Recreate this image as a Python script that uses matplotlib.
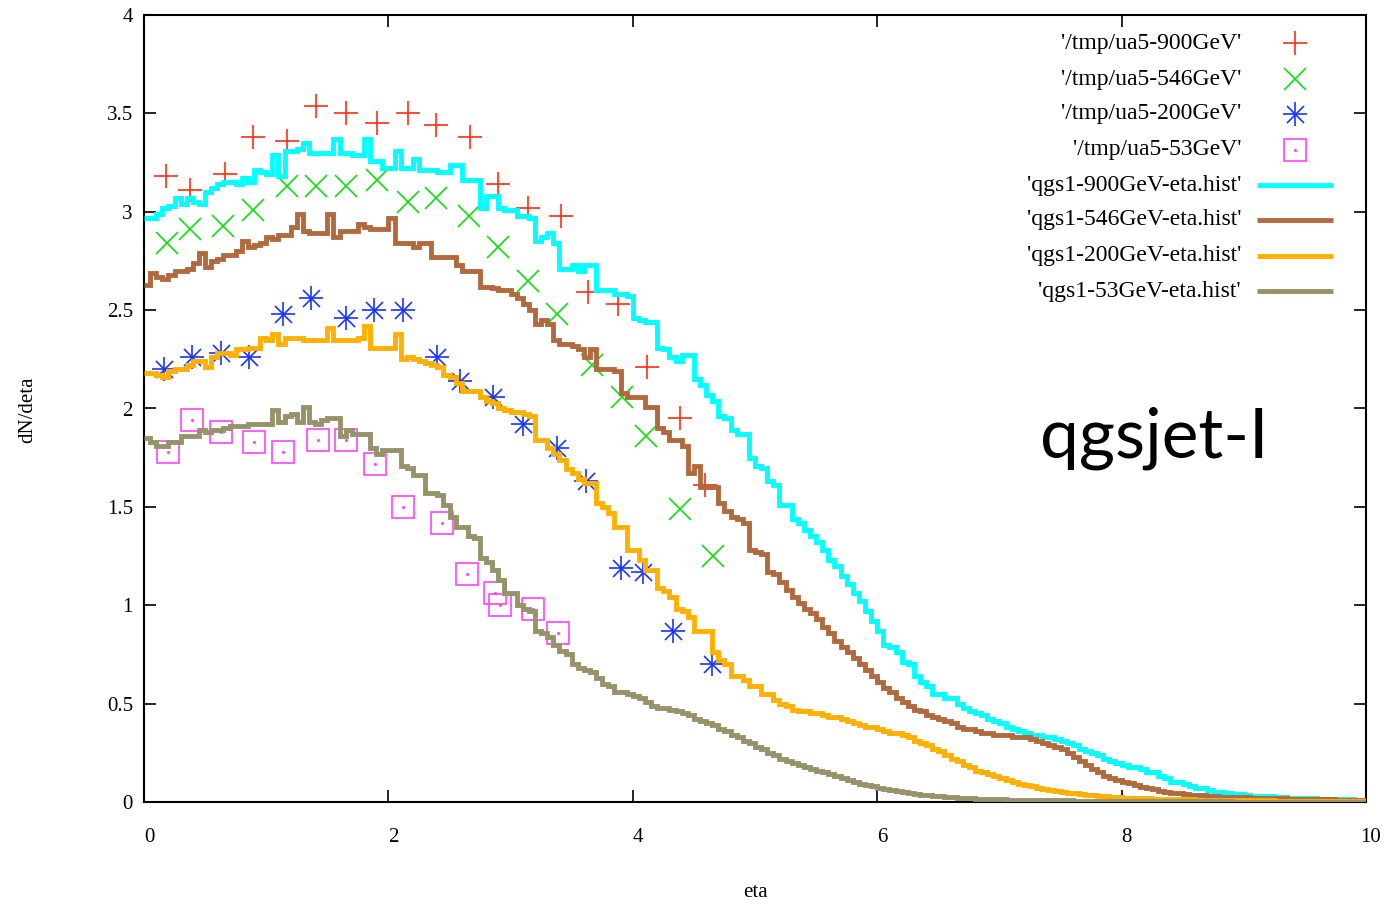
import numpy as np
import matplotlib
matplotlib.use('Agg')
import matplotlib.pyplot as plt
from matplotlib.lines import Line2D
import matplotlib.transforms as mtransforms

# ---------------- data ----------------
# UA5 measurements (eta, dN/deta)
ua5_900_eta = [0.18, 0.38, 0.66, 0.89, 1.17, 1.41, 1.65, 1.91, 2.16, 2.39, 2.67, 2.90, 3.14, 3.41, 3.63, 3.88, 4.12, 4.39, 4.59]
ua5_900_val = [3.18, 3.11, 3.19, 3.38, 3.36, 3.54, 3.50, 3.45, 3.50, 3.44, 3.38, 3.14, 3.02, 2.98, 2.59, 2.53, 2.21, 1.95, 1.61]

ua5_546_eta = [0.19, 0.38, 0.65, 0.89, 1.17, 1.41, 1.65, 1.91, 2.16, 2.39, 2.66, 2.90, 3.14, 3.38, 3.67, 3.91, 4.11, 4.39, 4.66]
ua5_546_val = [2.84, 2.91, 2.93, 3.01, 3.13, 3.13, 3.13, 3.16, 3.05, 3.07, 2.98, 2.82, 2.65, 2.48, 2.22, 2.06, 1.86, 1.49, 1.25]

ua5_200_eta = [0.16, 0.39, 0.63, 0.86, 1.14, 1.37, 1.65, 1.88, 2.12, 2.40, 2.59, 2.86, 3.10, 3.38, 3.62, 3.90, 4.08, 4.33, 4.65]
ua5_200_val = [2.20, 2.26, 2.28, 2.26, 2.48, 2.56, 2.46, 2.50, 2.50, 2.26, 2.14, 2.06, 1.92, 1.80, 1.63, 1.19, 1.17, 0.87, 0.70]

ua5_53_eta = [0.20, 0.39, 0.63, 0.90, 1.14, 1.42, 1.65, 1.89, 2.12, 2.44, 2.64, 2.87, 2.91, 3.18, 3.39]
ua5_53_val = [1.78, 1.94, 1.88, 1.83, 1.78, 1.84, 1.84, 1.72, 1.50, 1.42, 1.16, 1.06, 1.00, 0.98, 0.86]

# QGSJET-I histograms, bins of width 0.05 from eta=0 to eta=10
qgs_900 = [
    2.97, 2.97, 2.99, 3.02, 3.03, 3.07, 3.04, 3.07, 3.05, 3.04, 3.10, 3.12, 3.14, 3.15, 3.15, 3.14, 3.17, 3.15, 3.21, 3.20,
    3.19, 3.29, 3.18, 3.31, 3.31, 3.32, 3.35, 3.30, 3.30, 3.30, 3.30, 3.37, 3.30, 3.30, 3.29, 3.29, 3.37, 3.26, 3.26, 3.22,
    3.22, 3.31, 3.22, 3.22, 3.27, 3.21, 3.21, 3.21, 3.20, 3.20, 3.24, 3.24, 3.16, 3.16, 3.16, 3.02, 3.08, 3.08, 3.02, 3.01,
    3.01, 2.98, 2.98, 2.97, 2.85, 2.87, 2.89, 2.84, 2.71, 2.71, 2.73, 2.70, 2.73, 2.73, 2.60, 2.60, 2.60, 2.58, 2.58, 2.57,
    2.46, 2.45, 2.44, 2.44, 2.31, 2.30, 2.26, 2.24, 2.27, 2.27, 2.15, 2.12, 2.07, 2.04, 1.96, 1.95, 1.89, 1.87, 1.87, 1.75,
    1.71, 1.70, 1.63, 1.61, 1.51, 1.51, 1.44, 1.42, 1.38, 1.35, 1.32, 1.28, 1.23, 1.20, 1.15, 1.11, 1.06, 1.02, 0.97, 0.92,
    0.87, 0.80, 0.79, 0.76, 0.71, 0.70, 0.64, 0.61, 0.59, 0.55, 0.55, 0.53, 0.53, 0.50, 0.48, 0.46, 0.45, 0.44, 0.42, 0.41,
    0.40, 0.38, 0.37, 0.36, 0.35, 0.34, 0.34, 0.33, 0.33, 0.32, 0.31, 0.30, 0.29, 0.27, 0.26, 0.25, 0.24, 0.22, 0.21, 0.20,
    0.19, 0.18, 0.18, 0.17, 0.15, 0.15, 0.13, 0.12, 0.10, 0.10, 0.09, 0.08, 0.07, 0.07, 0.06, 0.05, 0.05, 0.045, 0.04, 0.04,
    0.035, 0.03, 0.03, 0.03, 0.028, 0.025, 0.025, 0.022, 0.02, 0.02, 0.02, 0.018, 0.017, 0.016, 0.015, 0.015, 0.014, 0.013, 0.012, 0.012,
]

qgs_546 = [
    2.63, 2.69, 2.67, 2.66, 2.68, 2.70, 2.70, 2.71, 2.74, 2.79, 2.72, 2.75, 2.76, 2.78, 2.78, 2.80, 2.85, 2.82, 2.83, 2.84,
    2.87, 2.86, 2.88, 2.88, 2.92, 2.99, 2.90, 2.89, 2.89, 2.89, 2.99, 2.87, 2.90, 2.90, 2.90, 2.94, 2.92, 2.91, 2.91, 2.91,
    2.97, 2.84, 2.84, 2.84, 2.82, 2.84, 2.84, 2.77, 2.77, 2.77, 2.77, 2.73, 2.70, 2.70, 2.70, 2.62, 2.62, 2.61, 2.60, 2.60,
    2.58, 2.56, 2.53, 2.50, 2.43, 2.45, 2.43, 2.35, 2.33, 2.33, 2.32, 2.30, 2.26, 2.30, 2.20, 2.20, 2.20, 2.19, 2.08, 2.06,
    2.06, 2.06, 2.01, 2.01, 1.90, 1.88, 1.84, 1.84, 1.81, 1.67, 1.71, 1.60, 1.60, 1.60, 1.52, 1.48, 1.45, 1.44, 1.42, 1.28,
    1.27, 1.26, 1.17, 1.16, 1.12, 1.08, 1.04, 1.01, 0.98, 0.96, 0.93, 0.89, 0.86, 0.82, 0.79, 0.76, 0.73, 0.70, 0.67, 0.64,
    0.61, 0.58, 0.56, 0.53, 0.51, 0.49, 0.47, 0.46, 0.44, 0.43, 0.42, 0.41, 0.40, 0.38, 0.37, 0.37, 0.36, 0.35, 0.35, 0.34,
    0.34, 0.34, 0.33, 0.33, 0.33, 0.32, 0.31, 0.30, 0.29, 0.28, 0.27, 0.25, 0.23, 0.21, 0.19, 0.17, 0.15, 0.13, 0.12, 0.11,
    0.10, 0.095, 0.085, 0.078, 0.07, 0.065, 0.055, 0.05, 0.047, 0.045, 0.04, 0.037, 0.036, 0.034, 0.03, 0.03, 0.027, 0.025, 0.025, 0.024,
    0.023, 0.022, 0.02, 0.02, 0.019, 0.018, 0.018, 0.017, 0.016, 0.015, 0.015, 0.014, 0.014, 0.013, 0.013, 0.012, 0.012, 0.011, 0.011, 0.01,
]

qgs_200 = [
    2.18, 2.18, 2.17, 2.16, 2.19, 2.20, 2.20, 2.22, 2.24, 2.24, 2.21, 2.26, 2.28, 2.28, 2.27, 2.30, 2.30, 2.31, 2.31, 2.36,
    2.35, 2.38, 2.33, 2.36, 2.36, 2.36, 2.35, 2.35, 2.35, 2.35, 2.41, 2.35, 2.35, 2.35, 2.35, 2.36, 2.42, 2.31, 2.31, 2.31,
    2.31, 2.38, 2.25, 2.26, 2.25, 2.24, 2.23, 2.22, 2.21, 2.17, 2.16, 2.13, 2.09, 2.09, 2.09, 2.06, 2.04, 2.03, 2.00, 1.99,
    1.98, 1.98, 1.97, 1.96, 1.84, 1.84, 1.80, 1.77, 1.74, 1.69, 1.67, 1.64, 1.62, 1.62, 1.52, 1.50, 1.47, 1.40, 1.40, 1.28,
    1.28, 1.23, 1.18, 1.18, 1.09, 1.07, 1.04, 0.98, 0.97, 0.94, 0.87, 0.87, 0.87, 0.76, 0.72, 0.70, 0.64, 0.64, 0.62, 0.59,
    0.59, 0.55, 0.55, 0.52, 0.50, 0.49, 0.47, 0.46, 0.46, 0.45, 0.45, 0.44, 0.43, 0.43, 0.42, 0.41, 0.40, 0.39, 0.38, 0.38,
    0.37, 0.36, 0.35, 0.35, 0.34, 0.33, 0.31, 0.30, 0.29, 0.27, 0.26, 0.24, 0.22, 0.21, 0.19, 0.18, 0.16, 0.15, 0.14, 0.13,
    0.12, 0.11, 0.10, 0.09, 0.085, 0.08, 0.07, 0.065, 0.06, 0.055, 0.05, 0.047, 0.044, 0.04, 0.037, 0.034, 0.03, 0.028, 0.026, 0.024,
    0.022, 0.021, 0.02, 0.019, 0.018, 0.017, 0.016, 0.015, 0.015, 0.014, 0.013, 0.013, 0.012, 0.012, 0.011, 0.011, 0.01, 0.01, 0.01, 0.009,
    0.009, 0.009, 0.008, 0.008, 0.008, 0.007, 0.007, 0.007, 0.006, 0.006, 0.006, 0.006, 0.005, 0.005, 0.005, 0.005, 0.005, 0.004, 0.004, 0.004,
]

qgs_53 = [
    1.85, 1.83, 1.81, 1.81, 1.83, 1.83, 1.86, 1.86, 1.86, 1.89, 1.88, 1.89, 1.89, 1.90, 1.91, 1.91, 1.91, 1.92, 1.92, 1.92,
    1.92, 1.99, 1.93, 1.96, 1.97, 1.93, 2.01, 1.93, 1.92, 1.94, 1.95, 1.95, 1.86, 1.89, 1.87, 1.87, 1.87, 1.80, 1.77, 1.79,
    1.79, 1.79, 1.71, 1.70, 1.66, 1.66, 1.57, 1.57, 1.56, 1.51, 1.45, 1.40, 1.40, 1.35, 1.34, 1.24, 1.22, 1.18, 1.13, 1.06,
    1.06, 1.00, 0.98, 0.97, 0.87, 0.86, 0.84, 0.80, 0.77, 0.75, 0.70, 0.68, 0.67, 0.66, 0.63, 0.60, 0.59, 0.56, 0.56, 0.55,
    0.54, 0.53, 0.51, 0.49, 0.48, 0.48, 0.47, 0.46, 0.45, 0.44, 0.42, 0.41, 0.40, 0.39, 0.37, 0.36, 0.34, 0.33, 0.31, 0.30,
    0.28, 0.27, 0.25, 0.24, 0.22, 0.21, 0.20, 0.19, 0.18, 0.17, 0.16, 0.15, 0.14, 0.13, 0.12, 0.11, 0.10, 0.09, 0.085, 0.08,
    0.07, 0.065, 0.06, 0.055, 0.05, 0.045, 0.04, 0.037, 0.034, 0.03, 0.028, 0.026, 0.024, 0.022, 0.02, 0.018, 0.017, 0.016, 0.015, 0.014,
    0.013, 0.012, 0.012, 0.011, 0.011, 0.010, 0.010, 0.009, 0.009, 0.008, 0.008, 0.008, 0.007, 0.007, 0.007, 0.006, 0.006, 0.006, 0.006, 0.005,
    0.005, 0.005, 0.005, 0.005, 0.004, 0.004, 0.004, 0.004, 0.004, 0.004, 0.003, 0.003, 0.003, 0.003, 0.003, 0.003, 0.003, 0.003, 0.002, 0.002,
    0.002, 0.002, 0.002, 0.002, 0.002, 0.002, 0.002, 0.002, 0.002, 0.002, 0.002, 0.002, 0.002, 0.002, 0.002, 0.002, 0.002, 0.002, 0.002, 0.002,
]

point_labels = ["'/tmp/ua5-900GeV'", "'/tmp/ua5-546GeV'", "'/tmp/ua5-200GeV'", "'/tmp/ua5-53GeV'"]
line_labels = ["'qgs1-900GeV-eta.hist'", "'qgs1-546GeV-eta.hist'", "'qgs1-200GeV-eta.hist'", "'qgs1-53GeV-eta.hist'"]
x_ticks = [0, 2, 4, 6, 8, 10]
x_tick_labels = ['0', '2', '4', '6', '8', '10']
y_ticks = [0, 0.5, 1, 1.5, 2, 2.5, 3, 3.5, 4]
y_tick_labels = ['0', '0.5', '1', '1.5', '2', '2.5', '3', '3.5', '4']

# ---------------- style ----------------
C_RED = '#ff2d14'
C_GREEN = '#12dc12'
C_BLUE = '#1a34ff'
C_MAG = '#ff44ff'
C_CYAN = '#00ffff'
C_BROWN = '#b06a3e'
C_ORANGE = '#ffb000'
C_OLIVE = '#96926a'

SERIF = ['Liberation Serif', 'DejaVu Serif']

W, H = 1386, 922
fig = plt.figure(figsize=(W / 100, H / 100), dpi=100)
L, R, T, B = 144, 1366, 15, 802
ax = fig.add_axes([L / W, 1 - B / H, (R - L) / W, (B - T) / H])

MS = 17
MEW = 1.2
ax.plot(ua5_900_eta, ua5_900_val, ls='none', marker='+', ms=MS, mew=MEW, color=C_RED, zorder=2)
ax.plot(ua5_546_eta, ua5_546_val, ls='none', marker='x', ms=MS * 0.95, mew=MEW, color=C_GREEN, zorder=2)
ax.plot(ua5_200_eta, ua5_200_val, ls='none', marker='+', ms=MS, mew=MEW, color=C_BLUE, zorder=2)
ax.plot(ua5_200_eta, ua5_200_val, ls='none', marker='x', ms=MS * 0.72, mew=MEW, color=C_BLUE, zorder=2)
ax.plot(ua5_53_eta, ua5_53_val, ls='none', marker='s', ms=MS * 0.95, mew=MEW, mfc='none', mec=C_MAG, zorder=2)
ax.plot(ua5_53_eta, ua5_53_val, ls='none', marker='.', ms=2.5, color=C_MAG, zorder=2)

LW = 3.5
for vals, col in [(qgs_900, C_CYAN), (qgs_546, C_BROWN), (qgs_200, C_ORANGE), (qgs_53, C_OLIVE)]:
    edges = np.linspace(0, 10, len(vals) + 1)
    ax.stairs(vals, edges, baseline=None, color=col, lw=LW, zorder=3)

ax.set_xlim(0, 10)
ax.set_ylim(0, 4)
ax.set_xticks(x_ticks)
ax.set_xticklabels(x_tick_labels, fontfamily=SERIF, fontsize=15)
ax.set_yticks(y_ticks)
ax.set_yticklabels(y_tick_labels, fontfamily=SERIF, fontsize=15)
ax.tick_params(direction='in', length=8.5, width=1.2, top=True, right=True, colors='black')
ax.tick_params(axis='x', pad=19)
ax.tick_params(axis='y', pad=8)
for lab in ax.get_xticklabels():
    lab.set_transform(lab.get_transform() + mtransforms.ScaledTranslation(5 / 100, 0, fig.dpi_scale_trans))
for s in ax.spines.values():
    s.set_linewidth(1.5)

def fx(px):
    return px / W

def fy(py):
    return 1 - py / H

fig.text(fx(28), fy(410), 'dN/deta', rotation=90, ha='center', va='center', fontfamily=SERIF, fontsize=15)
fig.text(fx(755), fy(892), 'eta', ha='center', va='center', fontfamily=SERIF, fontsize=15)

fig.text(fx(1040), fy(457), 'qgsjet-I', ha='left', va='baseline', fontfamily=['Lato', 'DejaVu Sans'], fontsize=50)

# legend (gnuplot style: right-aligned text, sample at right)
rows = [43, 79, 114, 150, 185, 220, 256, 291]
text_x = 1241
mk_x = 1295
for i, lab in enumerate(point_labels + line_labels):
    fig.text(fx(text_x), fy(rows[i]), lab, ha='right', va='center', fontfamily=SERIF, fontsize=17)

pt_styles = [
    [dict(marker='+', ms=MS, mew=MEW, color=C_RED)],
    [dict(marker='x', ms=MS * 0.95, mew=MEW, color=C_GREEN)],
    [dict(marker='+', ms=MS, mew=MEW, color=C_BLUE), dict(marker='x', ms=MS * 0.72, mew=MEW, color=C_BLUE)],
    [dict(marker='s', ms=MS * 0.95, mew=MEW, mfc='none', mec=C_MAG), dict(marker='.', ms=2.5, color=C_MAG)],
]
for i, styles in enumerate(pt_styles):
    for st in styles:
        fig.add_artist(Line2D([fx(mk_x)], [fy(rows[i])], ls='none', transform=fig.transFigure, **st))
for i, col in enumerate([C_CYAN, C_BROWN, C_ORANGE, C_OLIVE]):
    fig.add_artist(Line2D([fx(1257), fx(1333)], [fy(rows[4 + i])] * 2, color=col, lw=LW, transform=fig.transFigure,
                          solid_capstyle='butt'))

fig.savefig('out.png', dpi=100, facecolor='white')
